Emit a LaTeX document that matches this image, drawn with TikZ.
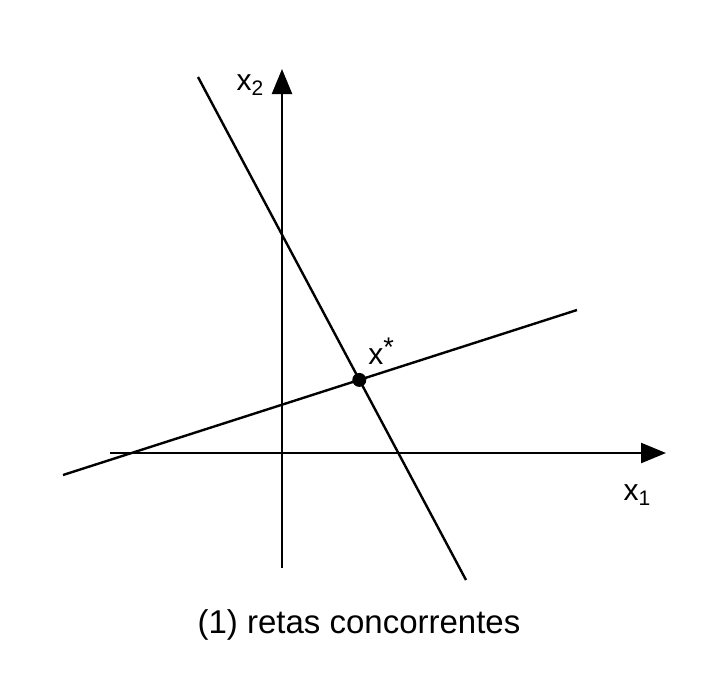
\documentclass[tikz,border=0pt]{standalone}
\usepackage{fontspec}
\setmainfont{Liberation Sans}
\usetikzlibrary{arrows.meta}
\begin{document}
\begin{tikzpicture}[x=1pt,y=-1pt,
  axis/.style={line width=2.4pt,-{Triangle[length=25pt,width=20pt]}},
  rline/.style={line width=2.4pt},
  lbl/.style={font=\fontsize{30}{36}\selectfont,inner sep=0pt},
  captxt/.style={font=\fontsize{33}{40}\selectfont,inner sep=0pt}]
\useasboundingbox[fill=white] (0,0) rectangle (727,673);
% axes
\coordinate (hs) at (110,453);
\coordinate (he) at (666,453);
\coordinate (vs) at (282,568);
\coordinate (ve) at (282,69);
\draw[axis] (hs) -- (he);
\draw[axis] (vs) -- (ve);
% lines
\coordinate (a1) at (198,77);
\coordinate (a2) at (466,580);
\coordinate (b1) at (63,475);
\coordinate (b2) at (577,310);
\draw[rline] (a1) -- (a2);
\draw[rline] (b1) -- (b2);
% intersection
\fill (359.3,379.9) circle (7pt) coordinate (p);
% labels
\node[lbl,anchor=base] (lx2) at (250,90) {x\raisebox{-0.35ex}{\fontsize{21}{24}\selectfont 2}};
\node[lbl,anchor=base] (lx1) at (637,500) {x\raisebox{-0.35ex}{\fontsize{21}{24}\selectfont 1}};
\node[lbl,anchor=base] (lxs) at (381,364) {x\raisebox{0.45ex}{\fontsize{27}{30}\selectfont *}};
\node[captxt,anchor=base] (caption) at (359,633) {(1) retas concorrentes};
\end{tikzpicture}
\end{document}
